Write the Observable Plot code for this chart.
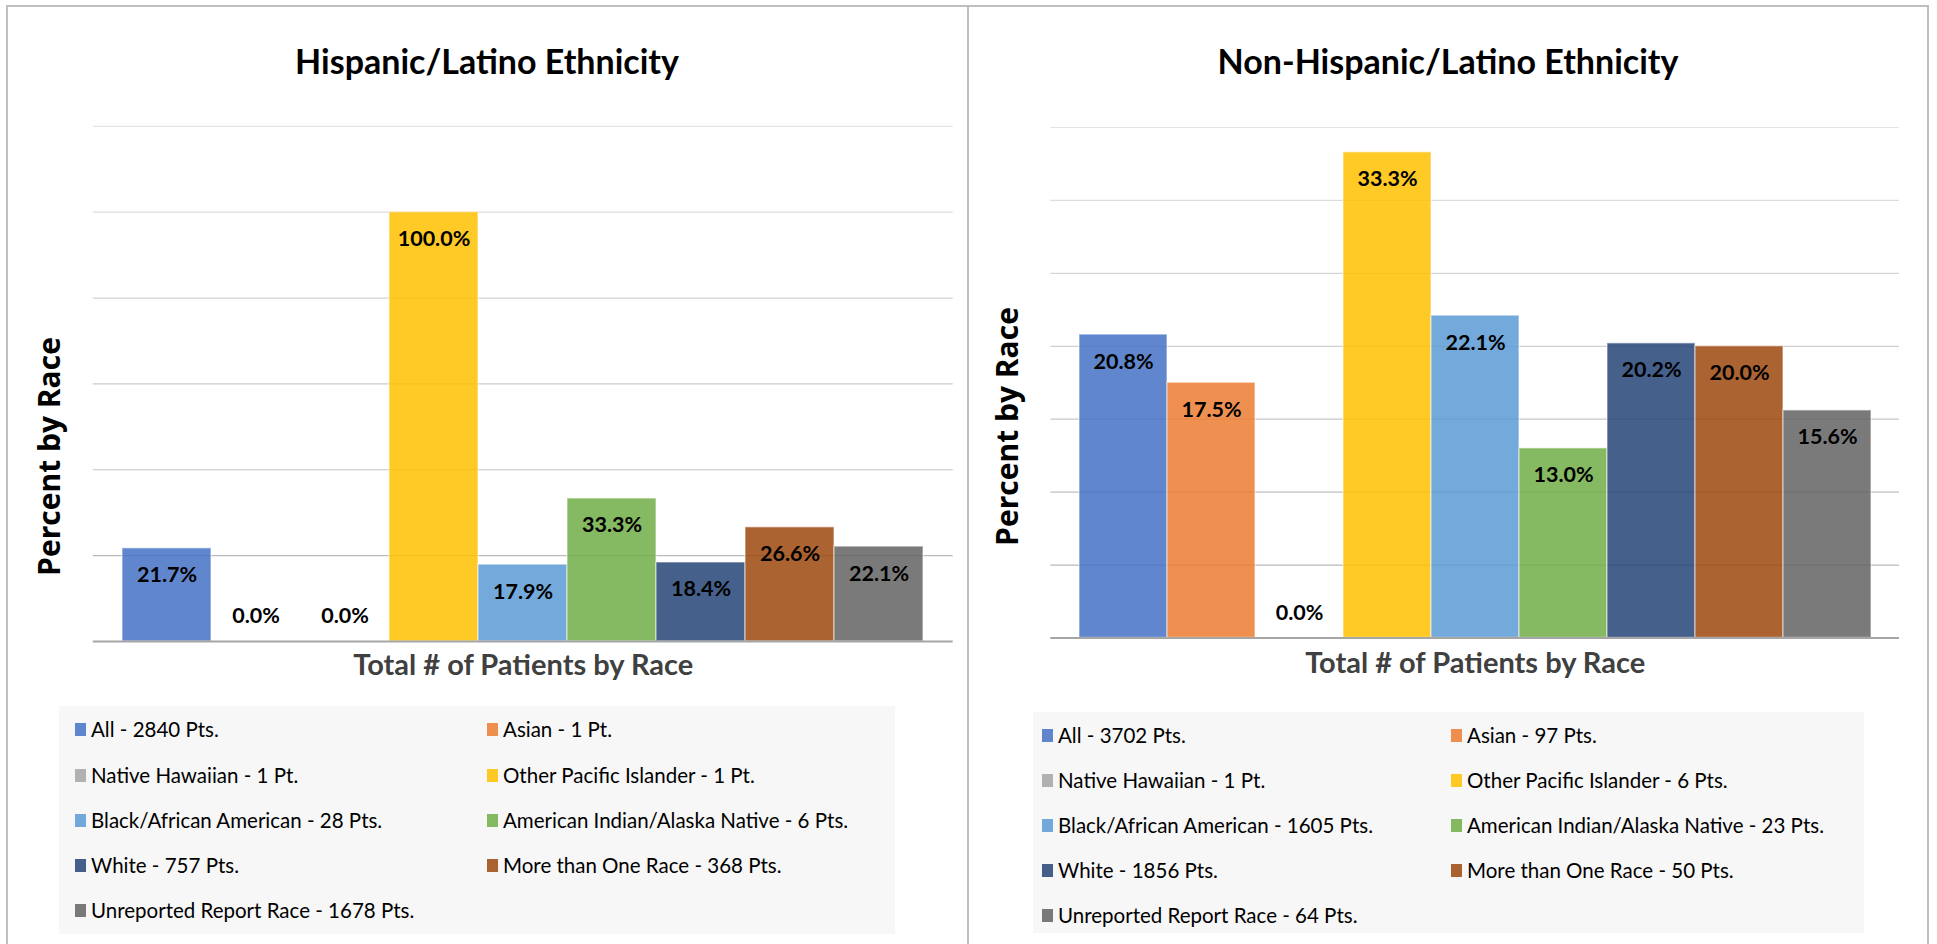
<!DOCTYPE html>
<html><head><meta charset="utf-8">
<script src="https://cdn.jsdelivr.net/npm/d3@7"></script>
<script src="https://cdn.jsdelivr.net/npm/@observablehq/plot@0.6"></script>
<style>
html,body{margin:0;padding:0;background:#fff;}
body{width:1937px;height:944px;position:relative;overflow:hidden;font-family:Lato,sans-serif;}
.panel{position:absolute;top:5px;height:1000px;border:2px solid #bfbfbf;box-sizing:border-box;}
.title{position:absolute;top:39px;font-family:Lato,sans-serif;font-weight:700;font-size:34px;color:#000;transform:translateX(-50%);white-space:nowrap;line-height:44px;}
.chart{position:absolute;top:0;}
.legend{position:absolute;background:#f7f7f7;}
.item{position:absolute;height:24px;font-family:Lato,sans-serif;font-size:20.5px;color:#000;white-space:nowrap;display:flex;align-items:center;line-height:1;}
.sw{width:11px;height:13px;margin-right:5px;flex:none;}
</style></head><body>
<script>
const categories = ["All","Asian","Native Hawaiian","Other Pacific Islander","Black/African American","American Indian/Alaska Native","White","More than One Race","Unreported Report Race"];
const colors = ["#4472C4","#ED7D31","#A5A5A5","#FFC000","#5B9BD5","#70AD47","#264478","#9E480E","#636363"];
const hispanicPct = [21.7, 0.0, 0.0, 100.0, 17.9, 33.3, 18.4, 26.6, 22.1];
const hispanicPts = [2840, 1, 1, 1, 28, 6, 757, 368, 1678];
const nonHispanicPct = [20.8, 17.5, 0.0, 33.3, 22.1, 13.0, 20.2, 20.0, 15.6];
const nonHispanicPts = [3702, 97, 1, 6, 1605, 23, 1856, 50, 64];
const hispanicTicks = [0, 20, 40, 60, 80, 100, 120];
const nonHispanicTicks = [0, 5, 10, 15, 20, 25, 30, 35];
const titles = ["Hispanic/Latino Ethnicity", "Non-Hispanic/Latino Ethnicity"];
const yTitle = "Percent by Race";
const xTitle = "Total # of Patients by Race";

function makeChart(pct, ticks, o) {
  const data = categories.map((c, i) => ({cat: c, pct: pct[i], color: colors[i]}));
  const max = ticks[ticks.length - 1];
  const grid = ticks.filter(t => t > 0);
  return Plot.plot({
    width: o.width, height: o.height,
    marginTop: o.mt, marginRight: o.mr, marginBottom: o.mb, marginLeft: o.ml,
    style: {background: "transparent", overflow: "visible"},
    x: {domain: categories, paddingInner: 0, paddingOuter: 0.32, axis: null},
    y: {domain: [0, max], axis: null},
    color: {type: "identity"},
    marks: [
      Plot.ruleY(grid, {stroke: d => d3.interpolateRgb("#b2b2b2", "#e4e4e4")(d / max), strokeWidth: 1.2}),
      Plot.barY(data, {x: "cat", y: "pct", fill: "color", fillOpacity: 0.85, stroke: "white", strokeOpacity: 0.45, strokeWidth: 1.5}),
      Plot.ruleY([0], {stroke: "#a6a6a6", strokeWidth: 1.8}),
      Plot.text(data.filter(d => d.pct > 0), {x: "cat", y: "pct", text: d => d.pct.toFixed(1) + "%", dy: 27, fontSize: 21.5, fontWeight: 700, fontFamily: "Lato", fill: "#000"}),
      Plot.text(data.filter(d => d.pct === 0), {x: "cat", y: "pct", text: d => d.pct.toFixed(1) + "%", dy: -25, fontSize: 21.5, fontWeight: 700, fontFamily: "Lato", fill: "#000"}),
      Plot.text([yTitle], {frameAnchor: "left", rotate: -90, textAnchor: "middle", lineAnchor: "middle", dx: o.ydx, dy: o.ydy, fontFamily: "Open Sans", fontWeight: 700, fontSize: 30, fill: "#000"}),
      Plot.text([xTitle], {frameAnchor: "bottom", textAnchor: "middle", lineAnchor: "middle", dy: o.xdy, fontFamily: "Lato", fontWeight: 700, fontSize: 29, fill: "#404040"})
    ]
  });
}

function addDiv(cls, styles, text) {
  const d = document.createElement("div");
  d.className = cls;
  Object.assign(d.style, styles);
  if (text != null) d.textContent = text;
  document.body.appendChild(d);
  return d;
}

// panels
addDiv("panel", {left: "6px", width: "963px"});
addDiv("panel", {left: "967px", width: "962px"});

const panels = [
  {pct: hispanicPct, pts: hispanicPts, ticks: hispanicTicks, left: 0, titleX: 487,
   o: {width: 968, height: 700, mt: 125.8, mb: 59, ml: 92.8, mr: 15.3, ydx: -42.8, ydy: 72.6, xdy: 24},
   legend: {left: 59, top: 706, width: 836, height: 228, cols: [75, 487], rows: [729, 775, 820, 865, 910]}},
  {pct: nonHispanicPct, pts: nonHispanicPts, ticks: nonHispanicTicks, left: 968, titleX: 1448,
   o: {width: 960, height: 700, mt: 127, mb: 62.5, ml: 82.3, mr: 29, ydx: -42.3, ydy: 43.75, xdy: 26},
   legend: {left: 1033, top: 712, width: 831, height: 221, cols: [1042, 1451], rows: [735, 780, 825, 870, 915]}}
];

panels.forEach((p, k) => {
  const svg = makeChart(p.pct, p.ticks, p.o);
  const wrap = addDiv("chart", {left: p.left + "px"});
  wrap.appendChild(svg);
  addDiv("title", {left: p.titleX + "px"}, titles[k]);
  const L = p.legend;
  addDiv("legend", {left: L.left + "px", top: L.top + "px", width: L.width + "px", height: L.height + "px"});
  categories.forEach((c, i) => {
    const n = p.pts[i];
    const item = addDiv("item", {left: L.cols[i % 2] + "px", top: (L.rows[Math.floor(i / 2)] - 12) + "px"});
    const sw = document.createElement("span");
    sw.className = "sw";
    sw.style.background = colors[i];
    sw.style.opacity = 0.85;
    item.appendChild(sw);
    const t = document.createElement("span");
    t.textContent = `${c} - ${n} ${n === 1 ? "Pt." : "Pts."}`;
    item.appendChild(t);
  });
});
</script>
</body></html>
